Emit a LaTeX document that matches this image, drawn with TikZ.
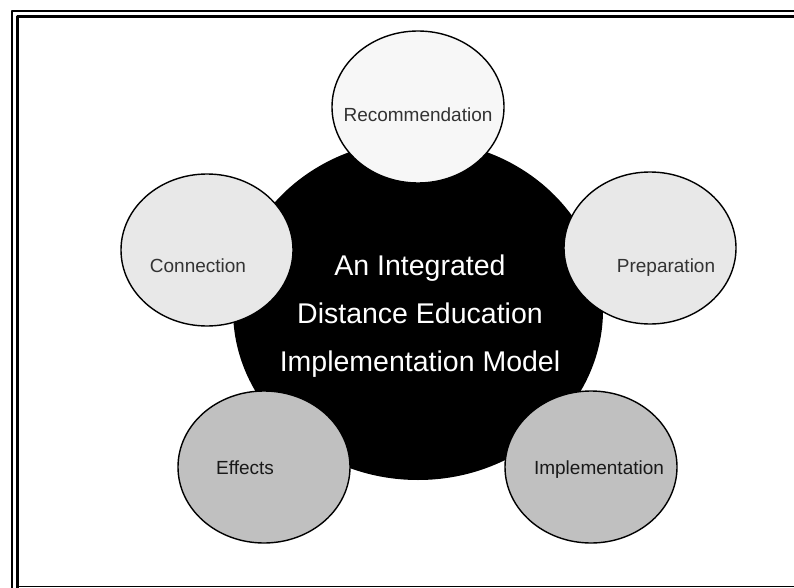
\documentclass[tikz,border=0pt]{standalone}
\usepackage{fontspec}
\setmainfont{Liberation Sans}
\usetikzlibrary{shapes.geometric}
\definecolor{palest}{HTML}{F7F7F7}
\definecolor{pale}{HTML}{E8E8E8}
\definecolor{midgray}{HTML}{C0C0C0}
\definecolor{inkgray}{HTML}{333333}
\begin{document}
\begin{tikzpicture}[x=1pt,y=-1pt,line join=round,
	part/.style={ellipse,draw,line width=1.4pt,minimum width=172pt,minimum height=152pt,inner sep=0pt},
	lbl/.style={anchor=base,text=inkgray,font=\fontsize{19}{23}\selectfont}]
	\fill[white] (0,0) rectangle (794,588);
	\useasboundingbox (0,0) rectangle (794,588);
	% frame
	\draw[line width=2pt] (12,588)--(12,11)--(794,11);
	\draw[line width=3pt] (17,588)--(17,17)--(794,17);
	\draw[line width=1.2pt] (18,586.5)--(794,586.5);
	% core
	\node[ellipse,fill=black,minimum width=370pt,minimum height=340pt,inner sep=0pt] (core) at (418,310) {};
	% parts
	\node[part,fill=palest] (rec) at (418,107) {};
	\node[part,fill=pale] (con) at (207,250) {};
	\node[part,fill=pale] (pre) at (650,248) {};
	\node[part,fill=midgray] (eff) at (264,467) {};
	\node[part,fill=midgray] (imp) at (591,467) {};
	\node[lbl] (rec-t) at (418,122) {Recommendation};
	\node[lbl] (con-t) at (198,272) {Connection};
	\node[lbl] (pre-t) at (666,272) {Preparation};
	\node[lbl,text=black!90] (eff-t) at (245,474) {Effects};
	\node[lbl,text=black!90] (imp-t) at (599,474) {Implementation};
	\node[text=white,align=center,font=\fontsize{28.5}{48}\selectfont] (core-t) at (420,316)
		{An Integrated\\Distance Education\\Implementation Model};
\end{tikzpicture}
\end{document}
